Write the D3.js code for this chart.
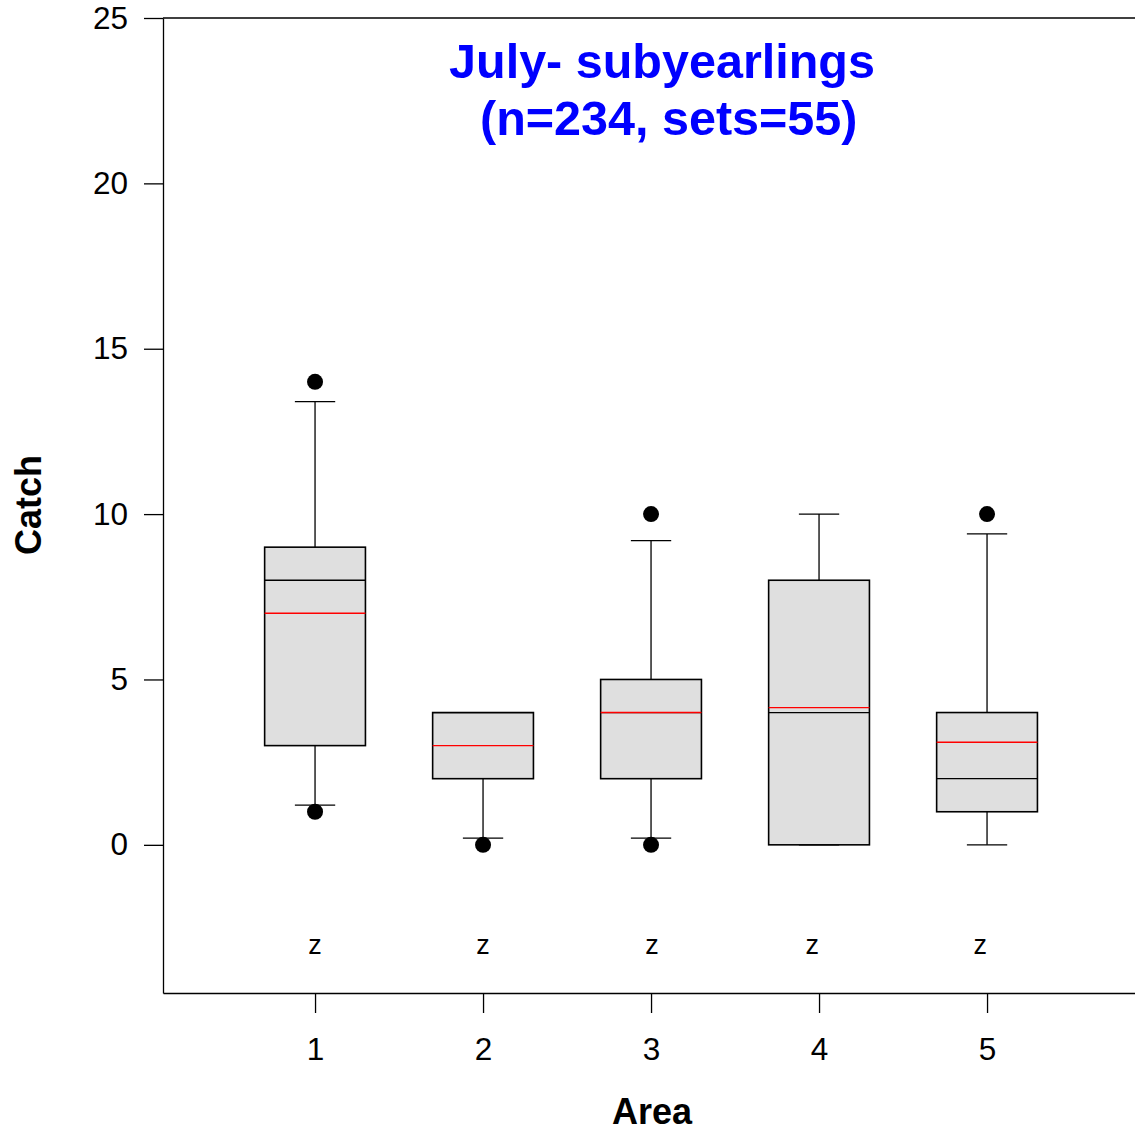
<!DOCTYPE html>
<html>
<head>
<meta charset="utf-8">
<script src="https://cdn.jsdelivr.net/npm/d3@7"></script>
<style>
  html, body { margin: 0; padding: 0; background: #fff; }
  svg { display: block; font-family: Arial, "Liberation Sans", sans-serif; }
</style>
</head>
<body>
<svg id="chart" width="1135" height="1131"></svg>
<script>
// ---- data ----
const areas    = [1, 2, 3, 4, 5];
const q1       = [3, 2, 2, 0, 1];
const q3       = [9, 4, 5, 8, 4];
const medians  = [8, 4, 4, 4, 2];
const means    = [7, 3, 4, 4.15, 3.1];
const whiskLo  = [1.2, 0.2, 0.2, 0, 0];
const whiskHi  = [13.4, 4, 9.2, 10, 9.4];
const outliers = [[14, 1], [0], [10, 0], [], [10]];
const groupLabels = ["z", "z", "z", "z", "z"];
const groupLabelPos = [1, 2, 3.005, 3.96, 4.96];
const yTicks   = [0, 5, 10, 15, 20, 25];
const xTicks   = [1, 2, 3, 4, 5];
const titleLines = ["July- subyearlings", " (n=234, sets=55)"];

// ---- scales ----
const svg = d3.select("#chart");
const plotLeft = 163, plotTop = 18, plotBottom = 993;
const x = d3.scaleLinear().domain([0.095, 5.9]).range([plotLeft, plotLeft + 5.805 * 168]);
const y = d3.scaleLinear().domain([-4.48, 25]).range([plotBottom, plotTop]);
const boxHalf = 0.3, capHalf = 0.12;

// frame: top line
svg.append("line")
  .attr("x1", plotLeft).attr("x2", 1135)
  .attr("y1", y(25)).attr("y2", y(25))
  .attr("stroke", "#000").attr("stroke-width", 1.3);

// y axis
const yAxis = svg.append("g")
  .attr("transform", `translate(${plotLeft},0)`)
  .call(d3.axisLeft(y).tickValues(yTicks).tickSize(19).tickPadding(16).tickSizeOuter(0));
yAxis.select(".domain").attr("stroke", "#000").attr("stroke-width", 1.3);
yAxis.selectAll(".tick line").attr("stroke", "#000").attr("stroke-width", 1.3);
yAxis.selectAll(".tick text").attr("font-size", 31.5).attr("font-family", "Arial, 'Liberation Sans', sans-serif").attr("fill", "#000");

// x axis
const xAxis = svg.append("g")
  .attr("transform", `translate(0,${plotBottom})`)
  .call(d3.axisBottom(x).tickValues(xTicks).tickFormat(d3.format("d")).tickSize(20).tickPadding(25).tickSizeOuter(0));
xAxis.select(".domain").attr("stroke", "#000").attr("stroke-width", 1.3);
xAxis.selectAll(".tick line").attr("stroke", "#000").attr("stroke-width", 1.3);
xAxis.selectAll(".tick text").attr("font-size", 31.5).attr("font-family", "Arial, 'Liberation Sans', sans-serif").attr("fill", "#000");

// boxes
const g = svg.append("g");
areas.forEach((a, i) => {
  const cx = x(a);
  // whiskers
  if (whiskHi[i] > q3[i]) {
    g.append("line").attr("x1", cx).attr("x2", cx).attr("y1", y(q3[i])).attr("y2", y(whiskHi[i]))
      .attr("stroke", "#000").attr("stroke-width", 1.3);
    g.append("line").attr("x1", x(a - capHalf)).attr("x2", x(a + capHalf)).attr("y1", y(whiskHi[i])).attr("y2", y(whiskHi[i]))
      .attr("stroke", "#000").attr("stroke-width", 1.3);
  }
  if (whiskLo[i] < q1[i]) {
    g.append("line").attr("x1", cx).attr("x2", cx).attr("y1", y(q1[i])).attr("y2", y(whiskLo[i]))
      .attr("stroke", "#000").attr("stroke-width", 1.3);
  }
  if (whiskLo[i] <= q1[i]) {
    g.append("line").attr("x1", x(a - capHalf)).attr("x2", x(a + capHalf)).attr("y1", y(whiskLo[i])).attr("y2", y(whiskLo[i]))
      .attr("stroke", "#000").attr("stroke-width", 1.3);
  }
  // box
  g.append("rect")
    .attr("x", x(a - boxHalf)).attr("width", x(a + boxHalf) - x(a - boxHalf))
    .attr("y", y(q3[i])).attr("height", y(q1[i]) - y(q3[i]))
    .attr("fill", "#dfdfdf").attr("stroke", "#000").attr("stroke-width", 1.6);
  // median
  g.append("line").attr("x1", x(a - boxHalf)).attr("x2", x(a + boxHalf)).attr("y1", y(medians[i])).attr("y2", y(medians[i]))
    .attr("stroke", "#000").attr("stroke-width", 1.3);
  // mean
  g.append("line").attr("x1", x(a - boxHalf)).attr("x2", x(a + boxHalf)).attr("y1", y(means[i])).attr("y2", y(means[i]))
    .attr("stroke", "#ff0000").attr("stroke-width", 1.4);
  // outliers
  outliers[i].forEach(v => {
    g.append("circle").attr("cx", cx).attr("cy", y(v)).attr("r", 8).attr("fill", "#000");
  });
  // group letters
  g.append("text").attr("x", x(groupLabelPos[i])).attr("y", y(-3)).attr("dy", "0.35em")
    .attr("text-anchor", "middle").attr("font-size", 27).attr("fill", "#000")
    .text(groupLabels[i]);
});

// title
const title = svg.append("text")
  .attr("text-anchor", "middle").attr("font-size", 48.5).attr("font-weight", "bold")
  .attr("fill", "#0000ff").style("white-space", "pre");
titleLines.forEach((t, k) => {
  title.append("tspan").attr("x", 662).attr("y", 78 + k * 57).text(t);
});

// axis titles
svg.append("text").attr("x", 652).attr("y", 1124).attr("text-anchor", "middle")
  .attr("font-size", 36).attr("font-weight", "bold").attr("fill", "#000").text("Area");
svg.append("text").attr("transform", "translate(41,505) rotate(-90)").attr("text-anchor", "middle")
  .attr("font-size", 36).attr("font-weight", "bold").attr("fill", "#000").text("Catch");
</script>
</body>
</html>
